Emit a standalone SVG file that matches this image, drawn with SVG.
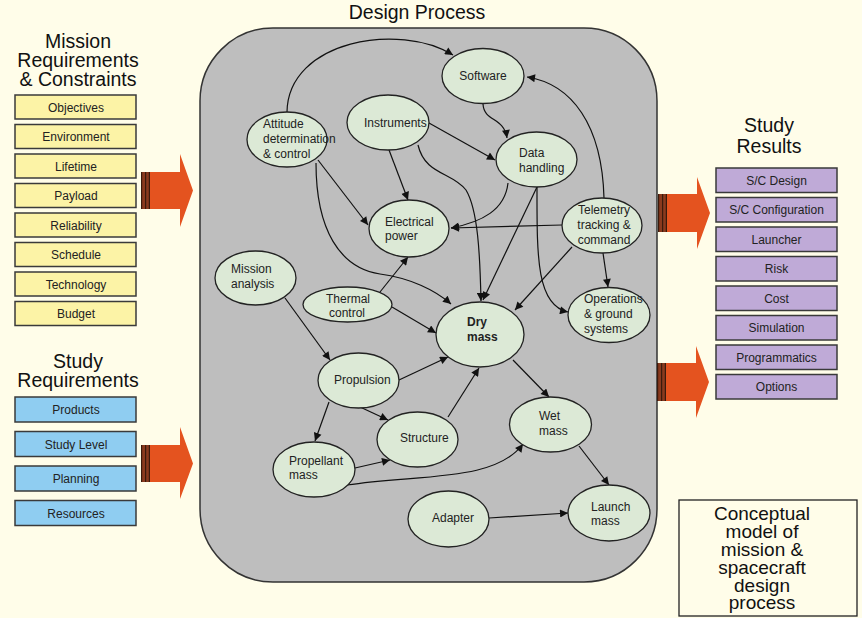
<svg xmlns="http://www.w3.org/2000/svg" width="862" height="618" viewBox="0 0 862 618">
<style>
text{font-family:"Liberation Sans",Arial,sans-serif;fill:#222}
.t{font-size:19.5px;text-anchor:middle;fill:#111}
.b{font-size:12px;text-anchor:middle}
.n{font-size:12px}
.nc{font-size:12px;text-anchor:middle}
.yb{fill:#fcf3a6;stroke:#3a3a3a;stroke-width:1.5}
.bb{fill:#8fcdf1;stroke:#3a3a3a;stroke-width:1.5}
.pb{fill:#bfaad7;stroke:#3a3a3a;stroke-width:1.5}
.e{fill:#dce9d6;stroke:#222;stroke-width:1.3}
.c path{fill:none;stroke:#111;stroke-width:1.2;marker-end:url(#ah)}
.arr{fill:#e4531f}
.st{fill:#8a3a1e}
.sl{stroke:#3a1a0c;stroke-width:1.2}
</style>
<defs>
<marker id="ah" viewBox="0 0 10 10" refX="10" refY="5" markerWidth="9" markerHeight="8" markerUnits="userSpaceOnUse" orient="auto">
<path d="M0,0 L10,5 L0,10 z" fill="#111"/>
</marker>
</defs>
<rect width="862" height="618" fill="#fffde9"/>

<!-- titles -->
<text class="t" x="417" y="19">Design Process</text>
<text class="t" x="78" y="48">Mission</text>
<text class="t" x="78" y="67">Requirements</text>
<text class="t" x="78" y="86">&amp; Constraints</text>
<text class="t" x="78" y="368">Study</text>
<text class="t" x="78" y="387">Requirements</text>
<text class="t" x="769" y="132">Study</text>
<text class="t" x="769" y="153">Results</text>

<!-- central panel -->
<rect x="200" y="28" width="457" height="554" rx="73" ry="73" fill="#bebebe" stroke="#333" stroke-width="1.5"/>

<!-- yellow boxes -->
<g id="mission-boxes">
<rect class="yb" x="15" y="95" width="121" height="24"/><text class="b" x="76" y="111.5">Objectives</text>
<rect class="yb" x="15" y="124.5" width="121" height="24"/><text class="b" x="76" y="141">Environment</text>
<rect class="yb" x="15" y="154" width="121" height="24"/><text class="b" x="76" y="170.5">Lifetime</text>
<rect class="yb" x="15" y="183.5" width="121" height="24"/><text class="b" x="76" y="200">Payload</text>
<rect class="yb" x="15" y="213" width="121" height="24"/><text class="b" x="76" y="229.5">Reliability</text>
<rect class="yb" x="15" y="242.5" width="121" height="24"/><text class="b" x="76" y="259">Schedule</text>
<rect class="yb" x="15" y="272" width="121" height="24"/><text class="b" x="76" y="288.5">Technology</text>
<rect class="yb" x="15" y="301.5" width="121" height="24"/><text class="b" x="76" y="318">Budget</text>
</g>

<!-- blue boxes -->
<g id="study-boxes">
<rect class="bb" x="15" y="397" width="121" height="25"/><text class="b" x="76" y="414">Products</text>
<rect class="bb" x="15" y="431.5" width="121" height="25"/><text class="b" x="76" y="448.5">Study Level</text>
<rect class="bb" x="15" y="466" width="121" height="25"/><text class="b" x="76" y="483">Planning</text>
<rect class="bb" x="15" y="500.5" width="121" height="25"/><text class="b" x="76" y="517.5">Resources</text>
</g>

<!-- purple boxes -->
<g id="result-boxes">
<rect class="pb" x="716" y="168" width="121" height="24.5"/><text class="b" x="776.5" y="184.5">S/C Design</text>
<rect class="pb" x="716" y="197.5" width="121" height="24.5"/><text class="b" x="776.5" y="214">S/C Configuration</text>
<rect class="pb" x="716" y="227" width="121" height="24.5"/><text class="b" x="776.5" y="243.5">Launcher</text>
<rect class="pb" x="716" y="256.5" width="121" height="24.5"/><text class="b" x="776.5" y="273">Risk</text>
<rect class="pb" x="716" y="286" width="121" height="24.5"/><text class="b" x="776.5" y="302.5">Cost</text>
<rect class="pb" x="716" y="315.5" width="121" height="24.5"/><text class="b" x="776.5" y="332">Simulation</text>
<rect class="pb" x="716" y="345" width="121" height="24.5"/><text class="b" x="776.5" y="361.5">Programmatics</text>
<rect class="pb" x="716" y="374.5" width="121" height="24.5"/><text class="b" x="776.5" y="391">Options</text>
</g>

<!-- big arrows -->
<g id="big-arrows">
<rect class="st" x="141" y="172" width="9" height="37"/>
<line class="sl" x1="141.6" y1="172" x2="141.6" y2="209"/><line class="sl" x1="145.6" y1="172" x2="145.6" y2="209"/><line class="sl" x1="149.4" y1="172" x2="149.4" y2="209"/>
<polygon class="arr" points="150,172 180,172 180,154 193,190.5 180,227 180,209 150,209"/>
<rect class="st" x="141" y="445" width="9" height="37"/>
<line class="sl" x1="141.6" y1="445" x2="141.6" y2="482"/><line class="sl" x1="145.6" y1="445" x2="145.6" y2="482"/><line class="sl" x1="149.4" y1="445" x2="149.4" y2="482"/>
<polygon class="arr" points="150,445 180,445 180,427 193,463.5 180,499 180,482 150,482"/>
<rect class="st" x="658" y="194" width="9" height="38"/>
<line class="sl" x1="658.6" y1="194" x2="658.6" y2="232"/><line class="sl" x1="662.6" y1="194" x2="662.6" y2="232"/><line class="sl" x1="666.4" y1="194" x2="666.4" y2="232"/>
<polygon class="arr" points="667,194 697,194 697,177 710,213 697,249 697,232 667,232"/>
<rect class="st" x="657" y="363" width="9" height="38"/>
<line class="sl" x1="657.6" y1="363" x2="657.6" y2="401"/><line class="sl" x1="661.6" y1="363" x2="661.6" y2="401"/><line class="sl" x1="665.4" y1="363" x2="665.4" y2="401"/>
<polygon class="arr" points="666,363 696,363 696,346 709,382 696,418 696,401 666,401"/>
</g>

<!-- connectors -->
<g id="connectors" class="c">
<path d="M287,112 C288,40 400,22 453,55"/>
<path d="M318,160 L368,225"/>
<path d="M316,163 C316,230 340,268 380,274 C410,278 435,290 451,304"/>
<path d="M429,123 L495,160"/>
<path d="M389,150 L408,200"/>
<path d="M418,145 C425,175 452,172 466,190 C478,210 480,255 481,301"/>
<path d="M483,104 C484,122 504,117 507,138"/>
<path d="M604,198 C602,125 572,84 527,77"/>
<path d="M508,183 C505,210 482,222 451,228"/>
<path d="M562,225 L451,228"/>
<path d="M537,187 L483,300"/>
<path d="M537,187 C537,255 536,305 568,312"/>
<path d="M572,247 L515,310"/>
<path d="M603,253 L608,287"/>
<path d="M380,292 L408,257"/>
<path d="M392,307 L436,333"/>
<path d="M285,298 L330,360"/>
<path d="M399,380 L448,357"/>
<path d="M360,407 L388,420"/>
<path d="M329,402 L315,441"/>
<path d="M448,417 L479,368"/>
<path d="M355,468 L390,460"/>
<path d="M347,485 C420,474 495,482 523,444"/>
<path d="M513,360 L549,397"/>
<path d="M579,446 L609,485"/>
<path d="M489,518 L568,513"/>
</g>

<!-- nodes -->
<g id="software"><ellipse class="e" cx="483" cy="76" rx="41" ry="27.5"/><text class="nc" x="483" y="80">Software</text></g>
<g id="attitude"><ellipse class="e" cx="287" cy="139.5" rx="40" ry="27.5"/><text class="n" x="263" y="128">Attitude</text><text class="n" x="263" y="143">determination</text><text class="n" x="263" y="158">&amp; control</text></g>
<g id="instruments"><ellipse class="e" cx="388" cy="122.5" rx="41" ry="27.5"/><text class="n" x="364" y="126.5">Instruments</text></g>
<g id="electrical"><ellipse class="e" cx="409" cy="228.5" rx="40" ry="28.5"/><text class="n" x="385" y="226">Electrical</text><text class="n" x="385" y="240">power</text></g>
<g id="data"><ellipse class="e" cx="536.5" cy="159.5" rx="40.5" ry="27.5"/><text class="n" x="519" y="156.5">Data</text><text class="n" x="519" y="171.5">handling</text></g>
<g id="telemetry"><ellipse class="e" cx="602" cy="225.5" rx="40" ry="27.5"/><text class="nc" x="604" y="214">Telemetry</text><text class="nc" x="604" y="229">tracking &amp;</text><text class="nc" x="604" y="244">command</text></g>
<g id="operations"><ellipse class="e" cx="609" cy="315" rx="41" ry="27.5"/><text class="n" x="584" y="303">Operations</text><text class="n" x="584" y="318">&amp; ground</text><text class="n" x="584" y="332.5">systems</text></g>
<g id="drymass"><ellipse class="e" cx="480" cy="334.5" rx="44" ry="32.5"/><text class="n" x="467" y="326" font-weight="bold">Dry</text><text class="n" x="467" y="341" font-weight="bold">mass</text></g>
<g id="mission"><ellipse class="e" cx="255.5" cy="278" rx="40.5" ry="27"/><text class="n" x="231" y="273">Mission</text><text class="n" x="231" y="287.5">analysis</text></g>
<g id="thermal"><ellipse class="e" cx="347.5" cy="304.5" rx="44.5" ry="17.5"/><text class="nc" x="348" y="303">Thermal</text><text class="nc" x="347" y="317">control</text></g>
<g id="propulsion"><ellipse class="e" cx="358.5" cy="380.5" rx="40.5" ry="27.5"/><text class="n" x="334" y="383.5">Propulsion</text></g>
<g id="structure"><ellipse class="e" cx="417.5" cy="439.5" rx="40.5" ry="27.5"/><text class="n" x="400" y="442">Structure</text></g>
<g id="propellant"><ellipse class="e" cx="314" cy="469.5" rx="41" ry="27.5"/><text class="n" x="289" y="465">Propellant</text><text class="n" x="289" y="479">mass</text></g>
<g id="wetmass"><ellipse class="e" cx="550.5" cy="424.5" rx="41" ry="27.5"/><text class="n" x="539" y="420">Wet</text><text class="n" x="539" y="435">mass</text></g>
<g id="adapter"><ellipse class="e" cx="448.5" cy="519" rx="40.5" ry="28"/><text class="n" x="432" y="522">Adapter</text></g>
<g id="launch"><ellipse class="e" cx="609" cy="513" rx="41" ry="28"/><text class="n" x="591" y="511">Launch</text><text class="n" x="591" y="525">mass</text></g>

<!-- caption box -->
<g id="caption">
<rect x="679" y="500" width="178" height="116" fill="#fffde9" stroke="#222" stroke-width="1.3"/>
<text class="t" x="762" y="520" style="font-size:19px">Conceptual</text>
<text class="t" x="762" y="538" style="font-size:19px">model of</text>
<text class="t" x="762" y="556" style="font-size:19px">mission &amp;</text>
<text class="t" x="762" y="573.5" style="font-size:19px">spacecraft</text>
<text class="t" x="762" y="591.5" style="font-size:19px">design</text>
<text class="t" x="762" y="609" style="font-size:19px">process</text>
</g>
</svg>
